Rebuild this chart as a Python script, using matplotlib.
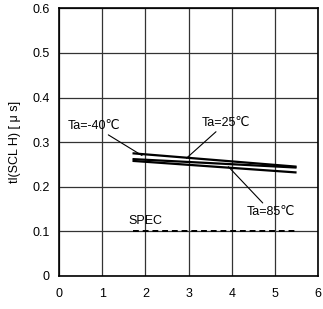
import matplotlib.pyplot as plt

plt.rcParams.update(
    {
        "font.family": ["Liberation Sans", "DejaVu Sans"],
        "font.size": 9,
    }
)

# data
vdd = [1.7, 5.5]
t_m40 = [0.275, 0.245]
t_25 = [0.262, 0.243]
t_85 = [0.258, 0.232]
spec_x = [1.7, 5.5]
spec_y = [0.1, 0.1]

x_ticks = [0, 1, 2, 3, 4, 5, 6]
y_ticks = [0, 0.1, 0.2, 0.3, 0.4, 0.5, 0.6]
y_ticklabels = ["0", "0.1", "0.2", "0.3", "0.4", "0.5", "0.6"]

fig = plt.figure(figsize=(3.23, 3.09), dpi=100)
ax = fig.add_axes([0.183, 0.107, 0.802, 0.866])

for ys in (t_m40, t_25, t_85):
    ax.plot(vdd, ys, color="black", linewidth=1.6, solid_capstyle="butt", zorder=3)

ax.plot(spec_x, spec_y, color="black", linewidth=1.4, linestyle=(0, (3, 2)), zorder=3)

ax.set_xlim(0, 6)
ax.set_ylim(0, 0.6)
ax.set_xticks(x_ticks)
ax.set_yticks(y_ticks)
ax.set_yticklabels(y_ticklabels)
ax.tick_params(axis="y", length=0, pad=7, labelsize=9)
ax.tick_params(axis="x", length=0, pad=9, labelsize=9)
ax.grid(True, color="#333333", linewidth=0.9)
ax.set_axisbelow(True)
for s in ax.spines.values():
    s.set_linewidth(1.2)
    s.set_color("black")

ax.set_ylabel("tl(SCL H) [ μ s]", fontsize=9, labelpad=8)

arrow = dict(arrowstyle="-", color="black", linewidth=0.8, shrinkA=0, shrinkB=0)
ax.annotate("Ta=-40℃", xy=(1.92, 0.27), xytext=(0.2, 0.336),
            fontsize=9, ha="left", va="center", arrowprops=arrow)
ax.annotate("Ta=25℃", xy=(2.95, 0.264), xytext=(3.3, 0.343),
            fontsize=9, ha="left", va="center", arrowprops=arrow)
ax.annotate("Ta=85℃", xy=(3.92, 0.245), xytext=(4.35, 0.144),
            fontsize=9, ha="left", va="center", arrowprops=arrow)
ax.text(1.6, 0.123, "SPEC", fontsize=9, ha="left", va="center")

fig.savefig("out.png", dpi=100)
